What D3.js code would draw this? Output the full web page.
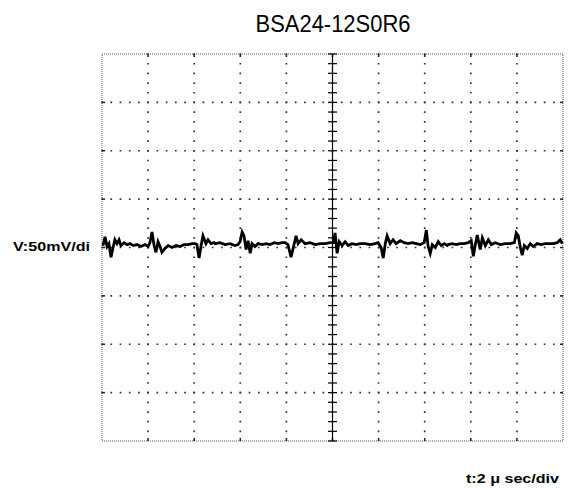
<!DOCTYPE html>
<html>
<head>
<meta charset="utf-8">
<script src="https://cdn.jsdelivr.net/npm/d3@7"></script>
<style>
  body { margin: 0; background: #fff; }
  svg { display: block; }
</style>
</head>
<body>
<div id="chart"></div>
<script>
// ripple trace, read from the scope shot (t in us, v in mV)
const traceTime = [0.04, 0.13, 0.22, 0.30, 0.39, 0.48, 0.56, 0.65, 0.74, 0.82, 0.96, 1.09, 1.22, 1.35, 1.52, 1.69, 1.87, 2.00,
  2.08, 2.17, 2.26, 2.34, 2.43, 2.52, 2.60, 2.73, 2.87, 3.04, 3.21, 3.39, 3.56, 3.73, 3.91, 4.04, 4.12, 4.21, 4.30, 4.38,
  4.51, 4.60, 4.73, 4.86, 4.91, 5.12, 5.34, 5.56, 5.77, 5.90, 5.99, 6.08, 6.16, 6.25, 6.34, 6.43, 6.51, 6.64, 6.77, 6.95,
  7.12, 7.29, 7.47, 7.64, 7.81, 7.94, 8.07, 8.20, 8.29, 8.42, 8.51, 8.64, 8.81, 9.03, 9.25, 9.46, 9.68, 9.90, 10.03, 10.11,
  10.20, 10.29, 10.42, 10.55, 10.68, 10.85, 11.03, 11.20, 11.42, 11.63, 11.85, 11.98, 12.11, 12.20, 12.29, 12.37, 12.50,
  12.63, 12.76, 12.94, 13.11, 13.28, 13.46, 13.63, 13.81, 13.98, 14.07, 14.15, 14.24, 14.33, 14.46, 14.59, 14.72, 14.85,
  14.98, 15.02, 15.19, 15.37, 15.54, 15.71, 15.89, 16.02, 16.11, 16.19, 16.28, 16.41, 16.50, 16.63, 16.76, 16.89, 17.06,
  17.28, 17.49, 17.71, 17.89, 17.97, 18.06, 18.15, 18.23, 18.32, 18.45, 18.58, 18.71, 18.88, 19.06, 19.23, 19.40, 19.58,
  19.75, 19.88, 19.97];
const traceMv = [2, 11, 1, 4, -10, 0, 8, 4, 8, 2, 5, 3, 4, 2, 3, 1, 3, 1,
  5, 16, 2, -5, 6, 1, -5, -1, 2, 0, 2, 1, 3, 3, 4, 4, 3, -11, 2, 12,
  4, 8, 4, 5, 4, 5, 3, 4, 2, 3, 6, 16, 12, -2, 7, -6, 4, 1, 4, 3,
  4, 3, 5, 4, 5, 5, 3, -10, -1, 12, 4, 8, 4, 5, 3, 4, 4, 5, 5, 15,
  -6, 6, 2, 6, 2, 4, 3, 4, 4, 3, 4, 5, 0, -11, 4, 12, 4,
  8, 4, 7, 5, 4, 5, 4, 3, 5, 18, 1, -6, 3, 0, 6, 2, 4,
  2, 3, 4, 3, 4, 4, 5, 7, -9, 2, 13, -2, 10, 2, 8, 3, 5,
  3, 4, 4, 5, 15, 12, 0, -8, 2, -1, 4, 1, 4, 3, 4, 4, 4,
  5, 8, 4];

const timeTicks = d3.range(0, 21, 2);      // 2 us/div, 10 div
const voltTicks = d3.range(-200, 201, 50); // 50 mV/div, 8 div
const titleText = 'BSA24-12S0R6';
const vLabel = 'V:50mV/di';
const tLabel = 't:2 \u03bc sec/div';

const width = 569;
const height = 488;
const margin = { top: 54, right: 6, bottom: 47, left: 102 };

const svg = d3.select('#chart')
  .append('svg')
  .attr('width', width)
  .attr('height', height);

const x = d3.scaleLinear()
  .domain([0, 20])
  .range([margin.left, width - margin.right]);

const y = d3.scaleLinear()
  .domain([-200, 200])
  .range([height - margin.bottom, margin.top]);

const xStep = (x(2) - x(0)) / 5;
const yStep = (y(-200) - y(-150)) / 5;

// dotted grid
const grid = svg.append('g');
grid.selectAll('line.v')
  .data(timeTicks.slice(1, -1))
  .join('line')
  .attr('class', 'v')
  .attr('x1', d => x(d)).attr('x2', d => x(d))
  .attr('y1', y(200) - 0.8).attr('y2', y(-200))
  .attr('stroke', '#333')
  .attr('stroke-width', 1.7)
  .attr('stroke-dasharray', `1.7,${yStep - 1.7}`);

grid.selectAll('line.h')
  .data(voltTicks.slice(1, -1))
  .join('line')
  .attr('class', 'h')
  .attr('y1', d => y(d)).attr('y2', d => y(d))
  .attr('x1', x(0) - 0.8).attr('x2', x(20))
  .attr('stroke', '#333')
  .attr('stroke-width', 1.7)
  .attr('stroke-dasharray', `1.7,${xStep - 1.7}`);

// frame, fine dots
svg.append('rect')
  .attr('x', x(0)).attr('y', y(200))
  .attr('width', x(20) - x(0))
  .attr('height', y(-200) - y(200))
  .attr('fill', 'none')
  .attr('stroke', '#555')
  .attr('stroke-width', 1)
  .attr('stroke-dasharray', '1,1');

// little marks where grid meets the frame
const edge = svg.append('g').attr('stroke', '#222').attr('stroke-width', 1.5);
timeTicks.slice(1, -1).forEach(t => {
  edge.append('line').attr('x1', x(t)).attr('x2', x(t)).attr('y1', y(200)).attr('y2', y(200) + 3);
  edge.append('line').attr('x1', x(t)).attr('x2', x(t)).attr('y1', y(-200)).attr('y2', y(-200) - 3);
});
voltTicks.slice(1, -1).forEach(v => {
  edge.append('line').attr('y1', y(v)).attr('y2', y(v)).attr('x1', x(0)).attr('x2', x(0) + 3);
  edge.append('line').attr('y1', y(v)).attr('y2', y(v)).attr('x1', x(20)).attr('x2', x(20) - 3);
});

// centre axis with minor ticks
const cx = x(10);
const centre = svg.append('g').attr('stroke', '#000').attr('stroke-width', 1.2);
centre.append('line')
  .attr('x1', cx).attr('x2', cx)
  .attr('y1', y(200)).attr('y2', y(-200));
centre.selectAll('line.mt')
  .data(d3.range(-200, 201, 10))
  .join('line')
  .attr('class', 'mt')
  .attr('x1', cx - 4.5).attr('x2', cx + 4.5)
  .attr('y1', d => y(d)).attr('y2', d => y(d));

// the trace
const line = d3.line()
  .x((d, i) => x(traceTime[i]))
  .y(d => y(d));

svg.append('path')
  .datum(traceMv)
  .attr('d', line)
  .attr('fill', 'none')
  .attr('stroke', '#000')
  .attr('stroke-width', 2.8)
  .attr('stroke-linejoin', 'miter');

// texts
svg.append('text')
  .attr('x', 333).attr('y', 32)
  .attr('text-anchor', 'middle')
  .attr('font-family', 'Liberation Sans Narrow, Arial, sans-serif')
  .attr('font-size', 23)
  .attr('textLength', 155)
  .attr('lengthAdjust', 'spacingAndGlyphs')
  .text(titleText);

svg.append('text')
  .attr('x', 13).attr('y', 251)
  .attr('font-family', 'Arial, Liberation Sans, sans-serif')
  .attr('font-weight', 'bold')
  .attr('font-size', 13)
  .attr('textLength', 77)
  .attr('lengthAdjust', 'spacingAndGlyphs')
  .text(vLabel);

svg.append('text')
  .attr('x', 466).attr('y', 483)
  .attr('font-family', 'Arial, Liberation Sans, sans-serif')
  .attr('font-weight', 'bold')
  .attr('font-size', 13.5)
  .attr('textLength', 93)
  .attr('lengthAdjust', 'spacingAndGlyphs')
  .text(tLabel);
</script>
</body>
</html>
